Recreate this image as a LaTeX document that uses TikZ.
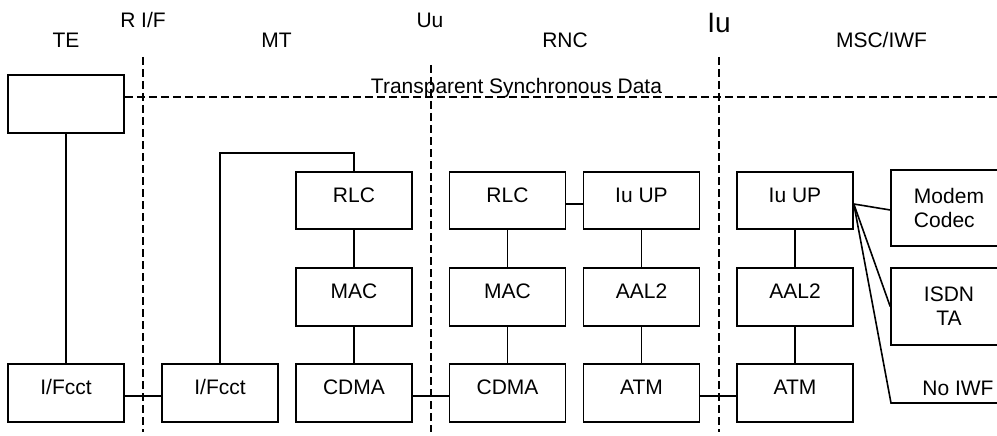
\documentclass[tikz,border=0pt]{standalone}
\usepackage{fontspec}
\setmainfont{Liberation Sans}
\usetikzlibrary{calc}
\begin{document}
\begin{tikzpicture}[x=1pt,y=-1pt,
 every node/.style={font=\fontsize{21}{24}\selectfont},
 box/.style={draw, line width=1.6pt, minimum width=116pt, minimum height=57.5pt, inner sep=0pt, text height=15pt, text depth=12pt},
 mbox/.style={draw, line width=1.6pt, minimum width=116pt, inner sep=0pt},
 conn/.style={line width=1.6pt},
 dsh/.style={line width=1.6pt, dash pattern=on 8pt off 4pt},
 lbl/.style={anchor=base, inner sep=0pt}]
\useasboundingbox (0,0) rectangle (997,436);

% headings
\node[lbl] (hte) at (66,48) {TE};
\node[lbl] (hrif) at (143,28) {R I/F};
\node[lbl] (hmt) at (276.5,48) {MT};
\node[lbl] (huu) at (430,28) {Uu};
\node[lbl] (hrnc) at (565,48) {RNC};
\node[lbl, font=\fontsize{28}{32}\selectfont] (hiu) at (719,33) {Iu};
\node[lbl] (hmsc) at (881.5,48) {MSC/IWF};
\node[lbl] (htsd) at (516.5,94) {Transparent Synchronous Data};

% interface lines
\coordinate (rifT) at (143,57); \coordinate (rifB) at (143,432);
\coordinate (uuT) at (431,65);  \coordinate (uuB) at (431,432);
\coordinate (iuT) at (719,57);  \coordinate (iuB) at (719,432);
\draw[dsh] (rifT) -- (rifB);
\draw[dsh] (uuT) -- (uuB);
\draw[dsh] (iuT) -- (iuB);

% TE
\node[draw, line width=1.6pt, minimum width=116pt, minimum height=58pt, inner sep=0pt] (tebox) at (66,104) {};
\coordinate (dataend) at (997,97);
\draw[dsh] (tebox.east |- dataend) -- (dataend);

% bottom row
\node[box] (if1) at (66,393) {I/Fcct};
\node[box] (if2) at (220,393) {I/Fcct};
\node[box] (cdma1) at (354,393) {CDMA};
\node[box] (cdma2) at (507.5,393) {CDMA};
\node[box] (atm2) at (641.5,393) {ATM};
\node[box] (atm3) at (795,393) {ATM};

% middle row
\node[box] (mac1) at (354,297) {MAC};
\node[box] (mac2) at (507.5,297) {MAC};
\node[box] (aal2) at (641.5,297) {AAL2};
\node[box] (aal3) at (795,297) {AAL2};

% top row
\node[box] (rlc1) at (354,200.5) {RLC};
\node[box] (rlc2) at (507.5,200.5) {RLC};
\node[box] (iuup2) at (641.5,200.5) {Iu UP};
\node[box] (iuup3) at (795,200.5) {Iu UP};

% IWF boxes
\node[mbox, minimum height=76pt, align=left] (modem) at (949,208) {Modem\\Codec};
\node[mbox, minimum height=77pt, align=center] (isdn) at (949,306.5) {ISDN\\TA};
\node[lbl] (noiwf) at (958,395) {No IWF};
\coordinate (nobend) at (891,403);
\coordinate (noend) at (997,403);

% connectors
\draw[conn] (tebox.south) -- (if1.north);
\draw[conn] ([yshift=-3pt]if1.east) -- ([yshift=-3pt]if2.west);
\coordinate (loop) at (220,153);
\draw[conn] (if2.north) -- (loop) -| (rlc1.north);
\draw[conn] (rlc1) -- (mac1);
\draw[conn] (mac1) -- (cdma1);
\draw[conn] ([yshift=-3pt]cdma1.east) -- ([yshift=-3pt]cdma2.west);
\draw[conn] (rlc2) -- (mac2);
\draw[conn] (mac2) -- (cdma2);
\draw[conn] ([yshift=-3.5pt]rlc2.east) -- ([yshift=-3.5pt]iuup2.west);
\draw[conn] (iuup2) -- (aal2);
\draw[conn] (aal2) -- (atm2);
\draw[conn] ([yshift=-3pt]atm2.east) -- ([yshift=-3pt]atm3.west);
\draw[conn] (iuup3) -- (aal3);
\draw[conn] (aal3) -- (atm3);
\coordinate (fan) at ([yshift=-3.5pt]iuup3.east);
\draw[conn] (fan) -- ([yshift=-2pt]modem.west);
\draw[conn] (fan) -- (isdn.west);
\draw[conn] (fan) -- (nobend) -- (noend);
\end{tikzpicture}
\end{document}
